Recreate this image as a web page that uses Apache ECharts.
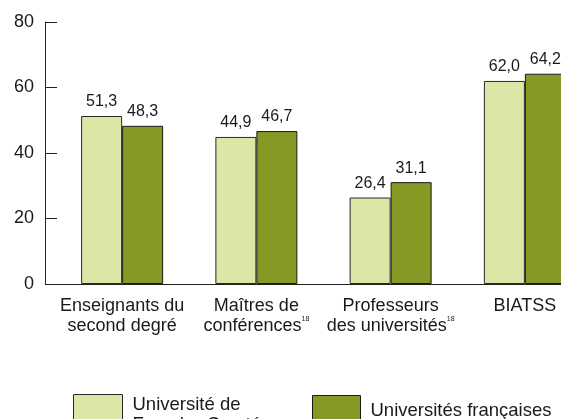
<!DOCTYPE html>
<html><head><meta charset="utf-8">
<script src="https://cdn.jsdelivr.net/npm/echarts@6/dist/echarts.min.js"></script>
<style>html,body{margin:0;padding:0;background:#fff}#c{width:561px;height:419px}</style>
</head><body><div id="c"></div>
<script>
var categories = ['Enseignants du\nsecond degré', 'Maîtres de\nconférences{sup|18}', 'Professeurs\ndes universités{sup|18}', 'BIATSS'];
var seriesNames = ['Université de Franche-Comté', 'Universités françaises'];
var ufcValues = [51.3, 44.9, 26.4, 62.0];
var frValues = [48.3, 46.7, 31.1, 64.2];
var yTicks = [0, 20, 40, 60, 80];

var FONT = '"Liberation Sans", Arial, sans-serif';
var TXT = '#1a1a1a';
var chart = echarts.init(document.getElementById('c'), null, {renderer: 'canvas'});
function fmt(v) { return v.toFixed(1).replace('.', ','); }
chart.setOption({
  animation: false,
  textStyle: {fontFamily: FONT},
  grid: {left: 55, width: 537, top: 22, bottom: 135, containLabel: false, outerBoundsMode: 'none'},
  xAxis: {
    type: 'category', data: categories,
    axisLine: {lineStyle: {color: '#222', width: 1}},
    axisTick: {show: false},
    axisLabel: {
      interval: 0, fontSize: 18, color: TXT, lineHeight: 20, margin: 12, fontFamily: FONT,
      rich: {sup: {fontSize: 7, verticalAlign: 'top', lineHeight: 20, color: TXT, fontFamily: FONT}}
    }
  },
  yAxis: {
    type: 'value', min: yTicks[0], max: yTicks[yTicks.length - 1], interval: 20, offset: 10,
    axisLine: {show: true, lineStyle: {color: '#222', width: 1}},
    axisTick: {show: true, inside: true, length: 12, lineStyle: {color: '#222', width: 1}},
    axisLabel: {fontSize: 18, color: TXT, margin: 11, fontFamily: FONT},
    splitLine: {show: false}
  },
  legend: [
    {data: [seriesNames[0]], left: 73, top: 394, padding: 0, icon: 'rect', itemWidth: 49, itemHeight: 40, itemGap: 0,
     formatter: function () { return 'Université de\nFranche-Comté'; },
     itemStyle: {borderColor: '#2a2a2a', borderWidth: 1},
     textStyle: {fontSize: 18.5, color: TXT, lineHeight: 20, fontFamily: FONT, padding: [0, 0, 0, 5]}, selectedMode: false},
    {data: [seriesNames[1]], left: 312, top: 395, padding: 0, icon: 'rect', itemWidth: 48, itemHeight: 30, itemGap: 0,
     itemStyle: {borderColor: '#1a1a1a', borderWidth: 1},
     textStyle: {fontSize: 18.5, color: TXT, fontFamily: FONT, padding: [0, 0, 0, 5]}, selectedMode: false}
  ],
  series: [
    {name: seriesNames[0], type: 'bar', data: ufcValues, barWidth: 41, barGap: '0%',
     itemStyle: {color: '#dce6a7', borderColor: '#2a2a2a', borderWidth: 1},
     label: {show: true, position: 'top', distance: 6, fontSize: 16, color: TXT, fontFamily: FONT,
             formatter: function (p) { return fmt(p.value); }}},
    {name: seriesNames[1], type: 'bar', data: frValues, barWidth: 41, barGap: '0%',
     itemStyle: {color: '#849a25', borderColor: '#1a1a1a', borderWidth: 1},
     label: {show: true, position: 'top', distance: 6, fontSize: 16, color: TXT, fontFamily: FONT,
             formatter: function (p) { return fmt(p.value); }}}
  ]
});
</script></body></html>
